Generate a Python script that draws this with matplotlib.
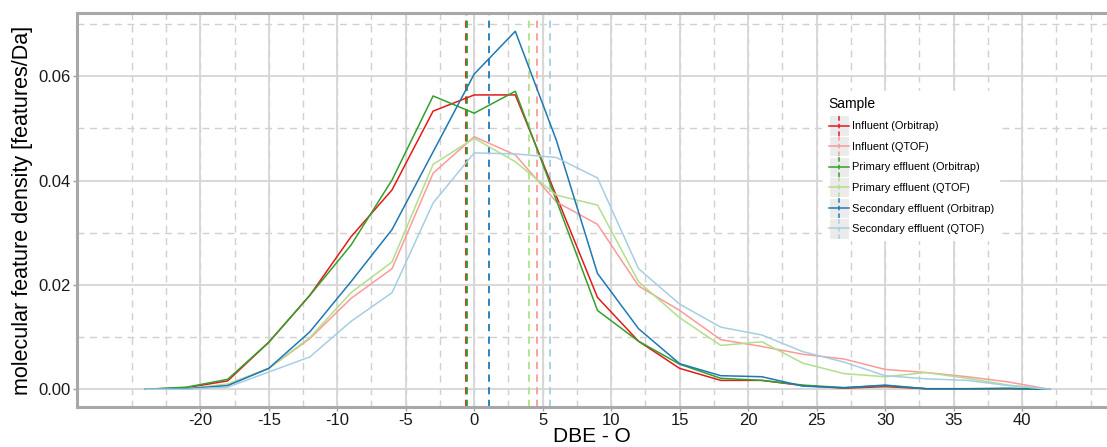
import numpy as np
import matplotlib
matplotlib.use("Agg")
import matplotlib.pyplot as plt
from matplotlib.legend_handler import HandlerBase
from matplotlib.patches import Rectangle
from matplotlib.lines import Line2D

plt.rcParams["font.family"] = ["Liberation Sans", "DejaVu Sans"]

# ── data ─────────────────────────────────────────────────────────────
dbe_o = [-24, -21, -18, -15, -12, -9, -6, -3, 0, 3, 6, 9, 12, 15, 18, 21, 24, 27, 30, 33, 36, 39, 42]

infl_orbi = [0, 0.0003, 0.0016, 0.0090, 0.0180, 0.0292, 0.0382, 0.0533, 0.0564, 0.0564, 0.0370, 0.0176,
             0.0092, 0.0040, 0.0017, 0.0017, 0.0007, 0.0002, 0.0005, 0.0001, 0.0001, 0.0001, 0]
infl_qtof = [0, 0.0001, 0.0008, 0.0040, 0.0097, 0.0174, 0.0231, 0.0414, 0.0484, 0.0449, 0.0359, 0.0316,
             0.0198, 0.0151, 0.0095, 0.0082, 0.0067, 0.0058, 0.0038, 0.0032, 0.0024, 0.0014, 0]
prim_orbi = [0, 0.0004, 0.0019, 0.0090, 0.0180, 0.0276, 0.0401, 0.0562, 0.0529, 0.0571, 0.0362, 0.0151,
             0.0092, 0.0048, 0.0021, 0.0017, 0.0008, 0.0003, 0.0007, 0.0001, 0.0001, 0.0001, 0]
prim_qtof = [0, 0.0001, 0.0010, 0.0040, 0.0099, 0.0185, 0.0244, 0.0431, 0.0481, 0.0436, 0.0372, 0.0353,
             0.0206, 0.0137, 0.0084, 0.0091, 0.0050, 0.0030, 0.0024, 0.0032, 0.0021, 0.0008, 0]
sec_orbi = [0, 0.0001, 0.0007, 0.0040, 0.0110, 0.0206, 0.0306, 0.0455, 0.0604, 0.0686, 0.0477, 0.0222,
            0.0116, 0.0049, 0.0026, 0.0024, 0.0006, 0.0003, 0.0008, 0.0001, 0.0001, 0.0002, 0]
sec_qtof = [0, 0.0000, 0.0004, 0.0033, 0.0062, 0.0130, 0.0185, 0.0357, 0.0453, 0.0451, 0.0444, 0.0405,
            0.0231, 0.0163, 0.0119, 0.0104, 0.0072, 0.0052, 0.0026, 0.0020, 0.0017, 0.0007, 0]

# median DBE-O per sample (dashed vertical lines)
medians = [-0.6, 4.6, -0.55, 4.0, 1.1, 5.5]

samples = ["Influent (Orbitrap)", "Influent (QTOF)", "Primary effluent (Orbitrap)",
           "Primary effluent (QTOF)", "Secondary effluent (Orbitrap)", "Secondary effluent (QTOF)"]
colors = ["#E31A1C", "#FB9A99", "#33A02C", "#B2DF8A", "#1F78B4", "#A6CEE3"]
series = [infl_orbi, infl_qtof, prim_orbi, prim_qtof, sec_orbi, sec_qtof]

x_major = [-20, -15, -10, -5, 0, 5, 10, 15, 20, 25, 30, 35, 40]
x_minor = np.arange(-25, 46, 2.5)
y_major = [0.00, 0.02, 0.04, 0.06]
y_minor = [0.01, 0.03, 0.05, 0.07]


# ggplot 風の凡例キー（灰色背景 + 横線 + 縦破線）
class KeyHandler(HandlerBase):
    def create_artists(self, legend, orig_handle, xdescent, ydescent, width, height, fontsize, trans):
        c = orig_handle.get_color()
        size = width
        cx = width / 2 - xdescent
        cy = height / 2 - ydescent
        bg = Rectangle((cx - size / 2, cy - size / 2), size, size, facecolor="#EBEBEB",
                       edgecolor="white", linewidth=0.8, transform=trans)
        h = Line2D([cx - size / 2, cx + size / 2], [cy, cy], color=c, lw=1.1, transform=trans)
        v = Line2D([cx, cx], [cy - size / 2, cy + size / 2], color=c, lw=1.1,
                   linestyle=(0, (3, 2)), transform=trans)
        return [bg, h, v]


fig = plt.figure(figsize=(11.07, 4.47), dpi=100)
ax = fig.add_axes([77 / 1107, 1 - 407 / 447, 1 - 77 / 1107, (407 - 13) / 447])

for xv in x_minor:
    ax.axvline(xv, color="#D0D0D0", lw=1.0, ls=(0, (5, 4)), zorder=0)
for yv in y_minor:
    ax.axhline(yv, color="#D0D0D0", lw=1.0, ls=(0, (5, 4)), zorder=0)
for xv in x_major:
    ax.axvline(xv, color="#D6D6D6", lw=1.3, zorder=0)
for yv in y_major:
    ax.axhline(yv, color="#D6D6D6", lw=1.3, zorder=0)

handles = []
for name, col, ys, med in zip(samples, colors, series, medians):
    ln, = ax.plot(dbe_o, ys, color=col, lw=1.1, label=name, zorder=3)
    ax.axvline(med, color=col, lw=1.3, ls=(0, (4, 3)), zorder=2)
    handles.append(ln)

ax.set_xlim(-29, 46.2)
ax.set_ylim(-0.0034, 0.0721)
ax.set_xticks(x_major)
ax.set_xticklabels([str(v) for v in x_major])
ax.set_yticks(y_major)
ax.set_yticklabels([f"{v:.2f}" for v in y_major])
ax.tick_params(axis="both", length=3, width=1.0, color="#A0A0A0", labelsize=12, labelcolor="#1a1a1a", pad=1.5)

ax.spines["right"].set_visible(False)
for side in ("left", "top", "bottom"):
    ax.spines[side].set_color("#A8A8A8")
    ax.spines[side].set_linewidth(2.2)

ax.set_xlabel("DBE - O", fontsize=15, labelpad=-1)
ax.set_ylabel("molecular feature density [features/Da]", fontsize=15.5, labelpad=4)

leg = ax.legend(handles=handles, handler_map={Line2D: KeyHandler()},
                loc="upper left", bbox_to_anchor=(0.719, 0.815), title="Sample",
                fontsize=7.9, title_fontsize=10, frameon=True, fancybox=False,
                framealpha=1, edgecolor="white", handlelength=1.85, handleheight=1.0,
                labelspacing=0.9, handletextpad=0.25, borderpad=0.5)
leg._legend_box.align = "left"
leg.set_zorder(5)

fig.savefig("out.png", dpi=100)
